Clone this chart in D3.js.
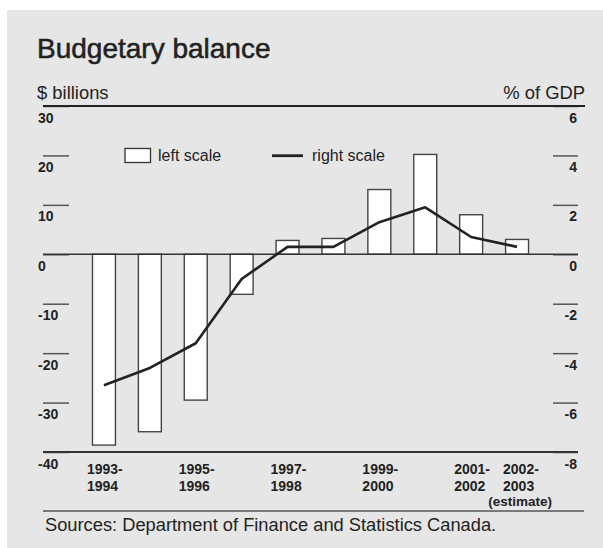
<!DOCTYPE html>
<html>
<head>
<meta charset="utf-8">
<script src="https://cdn.jsdelivr.net/npm/d3@7"></script>
<style>
  html, body { margin: 0; padding: 0; background: #ffffff; }
  svg { display: block; }
  text { font-family: "Liberation Sans", Arial, Helvetica, sans-serif; fill: #222; }
</style>
</head>
<body>
<svg id="chart" width="603" height="548"></svg>
<script>
// ---- Data ----
const years = ["1993-1994","1994-1995","1995-1996","1996-1997","1997-1998",
               "1998-1999","1999-2000","2000-2001","2001-2002","2002-2003"];
const balanceBillions = [-38.6, -35.9, -29.5, -8.1, 2.8, 3.2, 13.1, 20.2, 8.0, 3.0];
const balancePctGDP   = [-5.3, -4.6, -3.6, -1.0, 0.3, 0.3, 1.3, 1.9, 0.7, 0.3];
const leftTicks  = [30, 20, 10, 0, -10, -20, -30, -40];
const rightTicks = [6, 4, 2, 0, -2, -4, -6, -8];
const xLabelLines = [["1993-","1994"], null, ["1995-","1996"], null, ["1997-","1998"], null,
                     ["1999-","2000"], null, ["2001-","2002"], ["2002-","2003","(estimate)"]];
const titleText = "Budgetary balance";
const leftAxisTitle = "$ billions";
const rightAxisTitle = "% of GDP";
const legendLabels = ["left scale", "right scale"];
const sourceText = "Sources: Department of Finance and Statistics Canada.";

// ---- Layout ----
const svg = d3.select("#chart");
const xL = 43, xR = 578, yTop = 106, yBot = 452;

svg.append("rect").attr("x", 7).attr("y", 10).attr("width", 596).attr("height", 538)
  .attr("fill", "#e6e6e6");

const x = d3.scaleBand().domain(years).range([xL, xR]).paddingInner(0.5).paddingOuter(1.078);
const yLeft = d3.scaleLinear().domain([-40, 30]).range([yBot, yTop]);
const yRight = d3.scaleLinear().domain([-8, 6]).range([yBot, yTop]);
const fmt = d => String(d);

// Title
svg.append("text").attr("x", 37).attr("y", 58).attr("font-size", 28)
  .attr("stroke", "#222").attr("stroke-width", 0.55).text(titleText);

// Axis titles
svg.append("text").attr("x", 37).attr("y", 99).attr("font-size", 18.4).text(leftAxisTitle);
svg.append("text").attr("x", 585).attr("y", 99).attr("font-size", 18.4)
  .attr("text-anchor", "end").text(rightAxisTitle);

// Left axis (short ticks + labels)
const leftAxis = d3.axisRight(yLeft).tickValues(leftTicks).tickSize(26).tickFormat(fmt);
const gL = svg.append("g").attr("transform", `translate(${xL},0)`).call(leftAxis);
gL.select(".domain").remove();
gL.selectAll(".tick line").attr("stroke", "#555").attr("stroke-width", 1.5);
gL.selectAll(".tick text").attr("x", -5).attr("dy", 16).attr("text-anchor", "start")
  .attr("font-size", 14).attr("font-weight", "bold").attr("fill", "#222")
  .attr("font-family", "Liberation Sans, Arial, sans-serif");

// Right axis
const rightAxis = d3.axisLeft(yRight).tickValues(rightTicks).tickSize(25).tickFormat(fmt);
const gR = svg.append("g").attr("transform", `translate(${xR},0)`).call(rightAxis);
gR.select(".domain").remove();
gR.selectAll(".tick line").attr("stroke", "#555").attr("stroke-width", 1.5);
gR.selectAll(".tick text").attr("x", -1).attr("dy", 16).attr("text-anchor", "end")
  .attr("font-size", 14).attr("font-weight", "bold").attr("fill", "#222")
  .attr("font-family", "Liberation Sans, Arial, sans-serif");

// Full-width lines at top and bottom
svg.append("line").attr("x1", xL).attr("x2", 585).attr("y1", yLeft(30)).attr("y2", yLeft(30))
  .attr("stroke", "#222").attr("stroke-width", 2);
svg.append("line").attr("x1", xL).attr("x2", xR).attr("y1", yLeft(-40)).attr("y2", yLeft(-40))
  .attr("stroke", "#333").attr("stroke-width", 1.8);

// Bars
svg.append("g").selectAll("rect").data(years).join("rect")
  .attr("x", d => x(d))
  .attr("width", x.bandwidth())
  .attr("y", (d, i) => yLeft(Math.max(0, balanceBillions[i])))
  .attr("height", (d, i) => Math.abs(yLeft(balanceBillions[i]) - yLeft(0)))
  .attr("fill", "#ffffff").attr("stroke", "#444").attr("stroke-width", 1.4);

// Zero line
svg.append("line").attr("x1", xL).attr("x2", xR).attr("y1", yLeft(0)).attr("y2", yLeft(0))
  .attr("stroke", "#333").attr("stroke-width", 1.6);

// Line (right scale)
const line = d3.line().x((d, i) => x(years[i]) + x.bandwidth() / 2).y(d => yRight(d));
svg.append("path").datum(balancePctGDP).attr("d", line)
  .attr("fill", "none").attr("stroke", "#222").attr("stroke-width", 2.6)
  .attr("stroke-linejoin", "round");

// Legend
svg.append("rect").attr("x", 125).attr("y", 148.5).attr("width", 25.5).attr("height", 14)
  .attr("fill", "#ffffff").attr("stroke", "#333").attr("stroke-width", 1.3);
svg.append("text").attr("x", 158).attr("y", 161).attr("font-size", 16).text(legendLabels[0]);
svg.append("line").attr("x1", 272).attr("x2", 303).attr("y1", 155.7).attr("y2", 155.7)
  .attr("stroke", "#222").attr("stroke-width", 2.8);
svg.append("text").attr("x", 312).attr("y", 161).attr("font-size", 16).text(legendLabels[1]);

// X labels
const xl = svg.append("g");
years.forEach((yr, i) => {
  const lines = xLabelLines[i];
  if (!lines) return;
  const c = x(yr) + x.bandwidth() / 2;
  const last = i === years.length - 1;
  const left = last ? c - 14 : c - 17;
  lines.forEach((t, j) => {
    const isEst = j === 2;
    xl.append("text")
      .attr("x", isEst ? c + 3 : left)
      .attr("y", 474 + (j === 0 ? 0 : j === 1 ? 17 : 32))
      .attr("text-anchor", isEst ? "middle" : "start")
      .attr("font-size", isEst ? 13.5 : 14).attr("font-weight", "bold").text(t);
  });
});

// Bottom separator + source
svg.append("line").attr("x1", xL).attr("x2", 584).attr("y1", 511).attr("y2", 511)
  .attr("stroke", "#555").attr("stroke-width", 1.5);
svg.append("text").attr("x", 45).attr("y", 531).attr("font-size", 18.3).text(sourceText);
</script>
</body>
</html>
